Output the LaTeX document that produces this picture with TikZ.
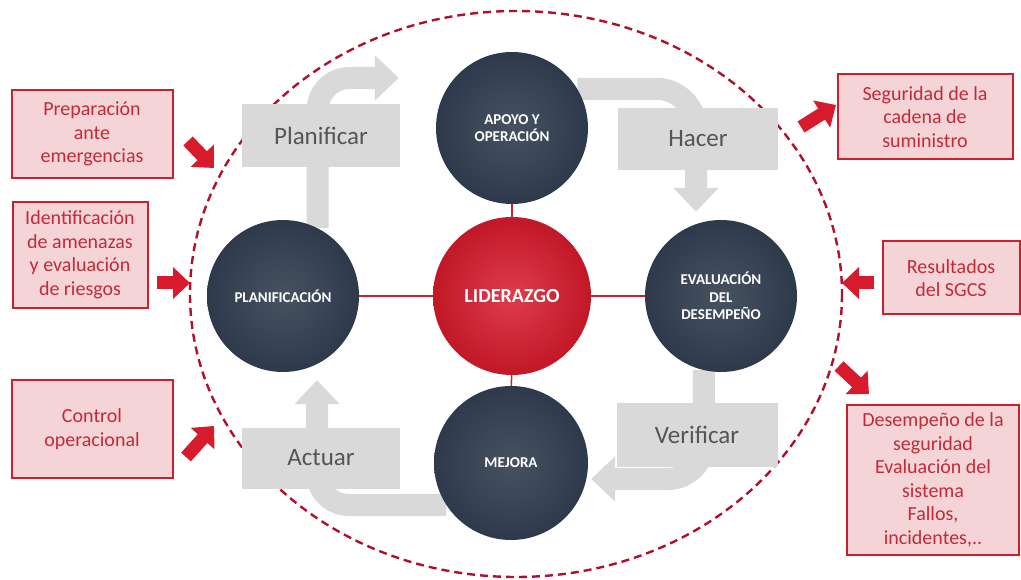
\documentclass[tikz,border=0pt]{standalone}
\usepackage{fontspec}
\setmainfont{Carlito}
\usetikzlibrary{arrows.meta,positioning}
\pgfdeclarelayer{background}
\pgfsetlayers{background,main}
\definecolor{navy}{HTML}{2E3A4B}
\definecolor{lidred}{HTML}{D71A2C}
\definecolor{arrowgray}{HTML}{D9D9D9}
\definecolor{labelgray}{HTML}{555555}
\definecolor{boxred}{HTML}{C8202F}
\definecolor{boxfill}{HTML}{F5D4D7}
\definecolor{boxtext}{HTML}{C22A38}
\definecolor{dashred}{HTML}{B0102C}
\tikzstyle{circ} = [circle, minimum size=152pt, inner sep=0pt, text=white, align=center, font=\bfseries\fontsize{15}{17.5}\selectfont, inner color=navy!88, outer color=navy]
\tikzstyle{lbox} = [fill=arrowgray, text=labelgray, font=\fontsize{25}{28}\selectfont, minimum width=158pt, minimum height=63pt, inner sep=0pt]
\tikzstyle{rbox} = [draw=boxred, line width=2pt, fill=boxfill, text=boxtext, align=center, inner sep=0pt, font=\fontsize{20}{23.5}\selectfont]
\tikzstyle{garrow} = [draw=arrowgray, line width=22pt, rounded corners=32pt, -{Triangle[length=24pt,width=44pt]}]
\tikzstyle{rarrow} = [draw=lidred, line width=13pt, -{Triangle[length=17pt,width=31pt]}]
\tikzstyle{rline} = [draw=boxred, line width=1.5pt]

\begin{document}
\begin{tikzpicture}[x=1pt, y=-1pt]
	\useasboundingbox (0,0) rectangle (1021,580);
	\draw [dashred, line width=2.4pt, dash pattern=on 8pt off 5pt] (516,294) ellipse [x radius=326, y radius=283];

	% circles
	\node [circ] (apoyo) at (512,128) {APOYO Y\\OPERACIÓN};
	\node [circ, minimum size=158pt, inner color=lidred!85!white, outer color=lidred!90!black, font=\bfseries\fontsize{20}{22}\selectfont] (lid) at (512,296) {LIDERAZGO};
	\node [circ] (plan) at (283,296) {PLANIFICACIÓN};
	\node [circ] (eval) at (721,296) {EVALUACIÓN\\DEL\\DESEMPEÑO};
	\node [circ, minimum size=154pt] (mejora) at (511,463) {MEJORA};

	\path [rline] (plan) -- (lid);
	\path [rline] (lid) -- (eval);
	\path [rline] (apoyo) -- (lid);
	\path [rline] (lid) -- (mejora);

	% cycle arrows
	\begin{pgfonlayer}{background}
		\draw [garrow] (plan.63) |- ([xshift=-37pt, yshift=50pt]apoyo.west);
		\draw [garrow, rounded corners=40pt] (apoyo.31) -| ([xshift=-25pt, yshift=8pt]eval.north);
		\draw [garrow, rounded corners=36pt] (eval.-103) |- ([xshift=3pt, yshift=-16pt]mejora.east);
		\draw [garrow] (mejora.-147) -| ([xshift=34pt, yshift=-8pt]plan.south);
	\end{pgfonlayer}

	\node [lbox] (planificar) at (321,136) {Planificar};
	\node [lbox, minimum width=160pt, minimum height=62pt] (hacer) at (698,139) {Hacer};
	\node [lbox, minimum width=161pt, minimum height=64pt] (verificar) at (697,435) {Verificar};
	\node [lbox, minimum height=61pt] (actuar) at (321,458) {Actuar};

	% side boxes
	\node [rbox, minimum width=161pt, minimum height=88pt] (prep) at (92,134) {Preparación\\ante\\emergencias};
	\node [rbox, minimum width=135pt, minimum height=106pt] (ident) at (80,255) {Identificación\\de amenazas\\y evaluación\\de riesgos};
	\node [rbox, minimum width=161pt, minimum height=98pt] (control) at (92,429) {Control\\operacional};
	\node [rbox, minimum width=175pt, minimum height=85pt] (seg) at (925,117) {Seguridad de la\\cadena de\\suministro};
	\node [rbox, minimum width=137pt, minimum height=73pt] (res) at (951,278) {Resultados\\del SGCS};
	\node [rbox, minimum width=172pt, minimum height=150pt] (desemp) at (933,480) {Desempeño de la\\seguridad\\Evaluación del\\sistema\\Fallos,\\incidentes,..};

	\coordinate (p1) at (188,141);
	\coordinate (p2) at (214,168);
	\coordinate (i1) at (157,283);
	\coordinate (i2) at (190,283);
	\coordinate (c1) at (186,457);
	\coordinate (c2) at (214,426);
	\coordinate (s1) at (801,127);
	\coordinate (s2) at (836,105);
	\coordinate (r1) at (874,283);
	\coordinate (r2) at (842,283);
	\coordinate (d1) at (839,366);
	\coordinate (d2) at (869,394);
	\draw [rarrow] (p1) -- (p2);
	\draw [rarrow] (i1) -- (i2);
	\draw [rarrow] (c1) -- (c2);
	\draw [rarrow] (s1) -- (s2);
	\draw [rarrow] (r1) -- (r2);
	\draw [rarrow] (d1) -- (d2);
\end{tikzpicture}
\end{document}
